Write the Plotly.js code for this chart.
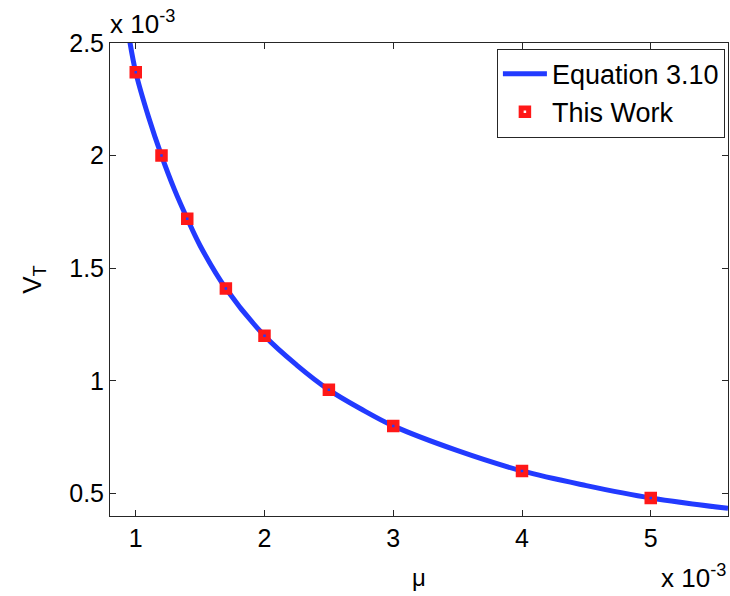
<!DOCTYPE html>
<html>
<head>
<meta charset="utf-8">
<script src="https://cdn.plot.ly/plotly-3.0.1.min.js"></script>
<style>
  html, body { margin: 0; padding: 0; background: #fff; }
  #chart { width: 730px; height: 596px; }
</style>
</head>
<body>
<div id="chart"></div>
<script>
// Values are in units of 1e-3 (shown by the "x 10^-3" multipliers).
// Equation 3.10 curve, sampled along mu.
const curveMu = [0.95, 1.0, 1.1, 1.2, 1.3, 1.4, 1.5, 1.7, 2.0, 2.25, 2.5, 2.75, 3.0, 3.5, 4.0, 4.5, 5.0, 5.6];
const curveVT = [2.52, 2.37, 2.17, 2.0, 1.85, 1.72, 1.6, 1.41, 1.2, 1.07, 0.96, 0.875, 0.8, 0.69, 0.6, 0.535, 0.48, 0.434];

// Simulated results ("This Work").
const workMu = [1.0, 1.2, 1.4, 1.7, 2.0, 2.5, 3.0, 4.0, 5.0];
const workVT = [2.37, 2.0, 1.72, 1.41, 1.2, 0.96, 0.8, 0.6, 0.48];

const xTicks = [1, 2, 3, 4, 5];
const yTicks = [0.5, 1, 1.5, 2, 2.5];

const FONT = 'Liberation Sans, Arial, Helvetica, sans-serif';
const AXIS_COLOR = '#262626';

const traces = [
  {
    x: curveMu, y: curveVT,
    type: 'scatter', mode: 'lines',
    name: 'Equation 3.10',
    line: { color: 'rgb(34,58,255)', width: 5, shape: 'spline', smoothing: 1 }
  },
  {
    x: workMu, y: workVT,
    type: 'scatter', mode: 'markers',
    name: 'This Work',
    marker: {
      symbol: 'square-open', size: 7.5,
      color: 'rgb(255,24,24)',
      line: { color: 'rgb(255,24,24)', width: 5 }
    }
  }
];

const axisCommon = {
  showgrid: false, zeroline: false,
  showline: true, linecolor: AXIS_COLOR, linewidth: 1,
  mirror: 'ticks', ticks: 'inside', ticklen: 6, tickwidth: 1, tickcolor: AXIS_COLOR,
  tickfont: { family: FONT, size: 25, color: '#000' }
};

const layout = {
  width: 730, height: 596,
  margin: { l: 110, r: 2, t: 43, b: 80 },
  paper_bgcolor: '#fff', plot_bgcolor: '#fff',
  font: { family: FONT, color: '#000' },
  showlegend: true,
  xaxis: Object.assign({}, axisCommon, {
    range: [0.8, 5.6], tickmode: 'array', tickvals: xTicks,
    title: { text: 'μ', font: { family: FONT, size: 24 }, standoff: 18 }
  }),
  yaxis: Object.assign({}, axisCommon, {
    range: [0.4, 2.5], tickmode: 'array', tickvals: yTicks,
    title: { text: 'V<sub>T</sub>', font: { family: FONT, size: 26 }, standoff: 20 }
  }),
  legend: {
    x: 0.995, xanchor: 'right', y: 0.988, yanchor: 'top',
    bgcolor: '#fff', bordercolor: AXIS_COLOR, borderwidth: 1,
    font: { family: FONT, size: 27, color: '#000' },
    itemwidth: 44, tracegroupgap: 0
  },
  annotations: [
    {
      xref: 'paper', yref: 'paper', x: 0, y: 1, xanchor: 'left', yanchor: 'bottom',
      yshift: 2, xshift: -2, showarrow: false,
      text: 'x 10<sup>-3</sup>', font: { family: FONT, size: 26, color: '#000' }
    },
    {
      xref: 'paper', yref: 'paper', x: 1, y: 0, xanchor: 'right', yanchor: 'top',
      yshift: -42, xshift: 0, showarrow: false,
      text: 'x 10<sup>-3</sup>', font: { family: FONT, size: 26, color: '#000' }
    }
  ]
};

Plotly.newPlot('chart', traces, layout, { staticPlot: true, displayModeBar: false });
</script>
</body>
</html>
